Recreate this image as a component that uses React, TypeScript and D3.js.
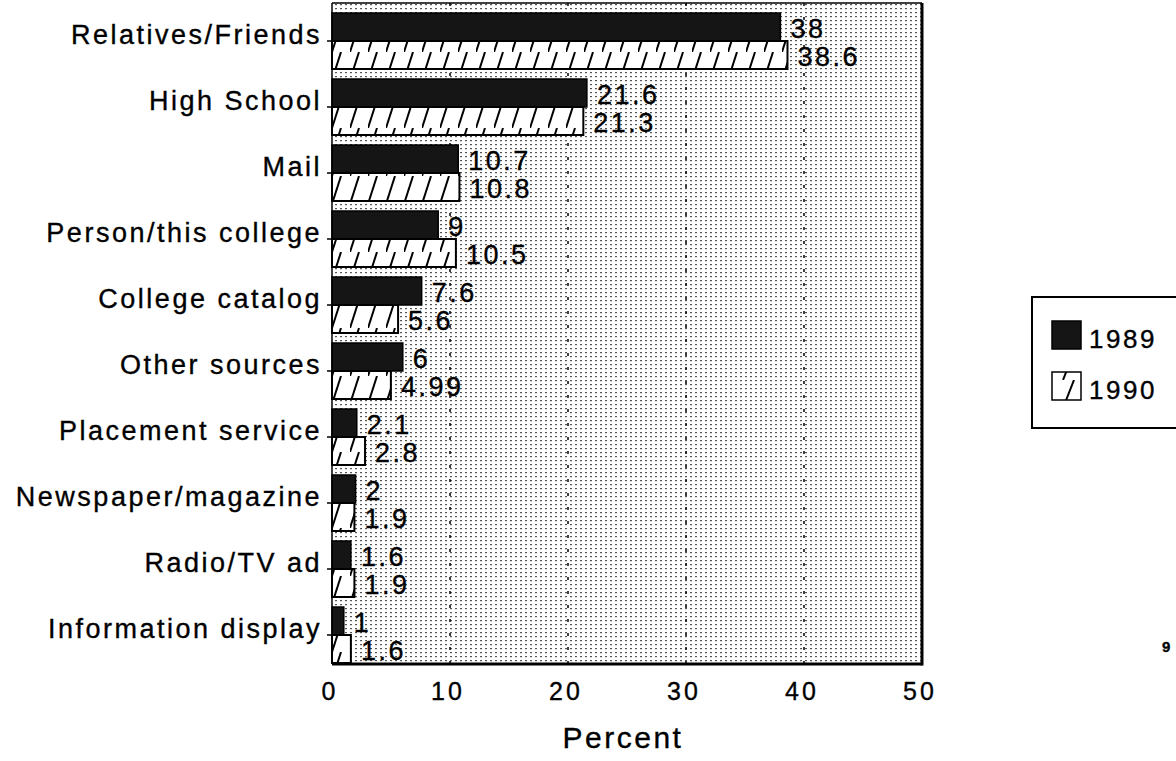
import { useEffect, useRef } from "react";
import * as d3 from "d3";

// source of information, 1989 vs 1990 (percent)
const categories = [
  "Relatives/Friends",
  "High School",
  "Mail",
  "Person/this college",
  "College catalog",
  "Other sources",
  "Placement service",
  "Newspaper/magazine",
  "Radio/TV ad",
  "Information display",
];
const values1989 = [38, 21.6, 10.7, 9, 7.6, 6, 2.1, 2, 1.6, 1];
const values1990 = [38.6, 21.3, 10.8, 10.5, 5.6, 4.99, 2.8, 1.9, 1.9, 1.6];
const seriesNames = ["1989", "1990"];
const xTicks = [0, 10, 20, 30, 40, 50];
const gridTicks = [10, 20, 30, 40];

const FONT = "'Liberation Sans', Arial, Helvetica, sans-serif";

function App() {
  const svgRef = useRef<SVGSVGElement>(null);

  useEffect(() => {
    if (!svgRef.current) return;
    const svg = d3.select(svgRef.current);
    svg.selectAll("*").remove();

    const left = 332;
    const right = 922;
    const top = 3;
    const bottom = 664;

    const x = d3.scaleLinear().domain([0, 50]).range([left, right]);
    const y = d3.scaleBand().domain(categories).range([11, 671]);
    const sub = d3.scaleBand().domain(seriesNames).range([2, 58]);

    const rows = categories.map((c, i) => ({
      cat: c,
      v: [values1989[i], values1990[i]],
    }));

    // scanned look: slightly heavier glyphs
    const ink = (sel: any) =>
      sel
        .attr("fill", "#000")
        .attr("stroke", "#000")
        .attr("stroke-width", 0.35)
        .style("font-family", FONT);

    const defs = svg.append("defs");

    // stipple background
    const dots = defs
      .append("pattern")
      .attr("id", "stipple")
      .attr("patternUnits", "userSpaceOnUse")
      .attr("width", 5)
      .attr("height", 4);
    dots.append("rect").attr("width", 5).attr("height", 4).attr("fill", "#fff");
    dots
      .append("rect")
      .attr("width", 2)
      .attr("height", 1.2)
      .attr("fill", "#555");

    // hatch pattern per bar, anchored to the bar's corner
    rows.forEach((d, i) => {
      const by = y(d.cat)! + sub("1990")!;
      const h = sub.bandwidth();
      const p = defs
        .append("pattern")
        .attr("id", `hatch-${i}`)
        .attr("patternUnits", "userSpaceOnUse")
        .attr("x", left)
        .attr("y", by)
        .attr("width", 18)
        .attr("height", h);
      p.append("rect").attr("width", 18).attr("height", h).attr("fill", "#fff");
      p.append("line")
        .attr("x1", 0)
        .attr("y1", h)
        .attr("x2", 9)
        .attr("y2", 0)
        .attr("stroke", "#000")
        .attr("stroke-width", 2);
    });

    // legend hatch
    const lp = defs
      .append("pattern")
      .attr("id", "hatch-legend")
      .attr("patternUnits", "userSpaceOnUse")
      .attr("x", 1052)
      .attr("y", 372)
      .attr("width", 29)
      .attr("height", 28);
    lp.append("rect").attr("width", 29).attr("height", 28).attr("fill", "#fff");
    lp.append("line")
      .attr("x1", 3)
      .attr("y1", 28)
      .attr("x2", 14)
      .attr("y2", 0)
      .attr("stroke", "#000")
      .attr("stroke-width", 2);

    // plot background
    svg
      .append("rect")
      .attr("x", left)
      .attr("y", top)
      .attr("width", right - left)
      .attr("height", bottom - top)
      .attr("fill", "url(#stipple)");

    // dotted grid lines
    svg
      .selectAll(".grid")
      .data(gridTicks)
      .enter()
      .append("line")
      .attr("class", "grid")
      .attr("x1", (d) => x(d))
      .attr("x2", (d) => x(d))
      .attr("y1", top)
      .attr("y2", bottom)
      .attr("stroke", "#000")
      .attr("stroke-width", 1.5)
      .attr("stroke-dasharray", "3,11");

    // bars
    const groups = svg
      .selectAll(".row")
      .data(rows)
      .enter()
      .append("g")
      .attr("class", "row")
      .attr("transform", (d) => `translate(0,${y(d.cat)})`);

    groups
      .append("rect")
      .attr("x", left)
      .attr("y", sub("1989")!)
      .attr("width", (d) => x(d.v[0]) - left)
      .attr("height", sub.bandwidth())
      .attr("fill", "#151515")
      .attr("stroke", "#000")
      .attr("stroke-width", 1.5);

    groups
      .append("rect")
      .attr("x", left)
      .attr("y", sub("1990")!)
      .attr("width", (d) => x(d.v[1]) - left)
      .attr("height", sub.bandwidth())
      .attr("fill", (d, i) => `url(#hatch-${i})`)
      .attr("stroke", "#000")
      .attr("stroke-width", 2);

    // value labels
    seriesNames.forEach((s, k) => {
      groups
        .append("text")
        .attr("x", (d) => x(d.v[k]) + 10)
        .attr("y", sub(s)! + sub.bandwidth() - 3)
        .style("font-size", "27px")
        .style("letter-spacing", "2.5px")
        .call(ink)
        .text((d) => String(d.v[k]));
    });

    // category labels and ticks
    groups
      .append("text")
      .attr("x", 322)
      .attr("y", sub("1990")! + 3)
      .attr("text-anchor", "end")
      .style("font-size", "27px")
      .style("letter-spacing", "2.5px")
      .call(ink)
      .text((d) => d.cat);

    groups
      .append("line")
      .attr("x1", left - 5)
      .attr("x2", left)
      .attr("y1", sub("1990")!)
      .attr("y2", sub("1990")!)
      .attr("stroke", "#000")
      .attr("stroke-width", 1.5);

    // frame
    svg
      .append("line")
      .attr("x1", left)
      .attr("x2", right)
      .attr("y1", top)
      .attr("y2", top)
      .attr("stroke", "#000")
      .attr("stroke-width", 1.5);
    svg
      .append("line")
      .attr("x1", left)
      .attr("x2", left)
      .attr("y1", top)
      .attr("y2", bottom)
      .attr("stroke", "#000")
      .attr("stroke-width", 1.5);
    svg
      .append("line")
      .attr("x1", right)
      .attr("x2", right)
      .attr("y1", top)
      .attr("y2", bottom + 1.5)
      .attr("stroke", "#000")
      .attr("stroke-width", 3);
    svg
      .append("line")
      .attr("x1", left)
      .attr("x2", right)
      .attr("y1", bottom)
      .attr("y2", bottom)
      .attr("stroke", "#000")
      .attr("stroke-width", 3);

    // x tick labels
    svg
      .selectAll(".xtick")
      .data(xTicks)
      .enter()
      .append("text")
      .attr("class", "xtick")
      .attr("x", (d) => x(d) - 2)
      .attr("y", 700)
      .attr("text-anchor", "middle")
      .style("font-size", "25px")
      .style("letter-spacing", "3px")
      .call(ink)
      .text((d) => d);

    svg
      .append("text")
      .attr("x", 623)
      .attr("y", 748)
      .attr("text-anchor", "middle")
      .style("font-size", "30px")
      .style("letter-spacing", "2.5px")
      .call(ink)
      .text("Percent");

    // legend
    svg
      .append("rect")
      .attr("x", 1032)
      .attr("y", 297)
      .attr("width", 170)
      .attr("height", 131)
      .attr("fill", "#fff")
      .attr("stroke", "#000")
      .attr("stroke-width", 2);

    const legendFill = ["#151515", "url(#hatch-legend)"];
    const legendY = d3.scaleOrdinal<string, number>().domain(seriesNames).range([321, 372]);

    const items = svg
      .selectAll(".legend-item")
      .data(seriesNames)
      .enter()
      .append("g")
      .attr("class", "legend-item")
      .attr("transform", (d) => `translate(1052,${legendY(d)})`);

    items
      .append("rect")
      .attr("width", 29)
      .attr("height", 28)
      .attr("fill", (d, i) => legendFill[i])
      .attr("stroke", "#000")
      .attr("stroke-width", 1.5);

    items
      .append("text")
      .attr("x", 37)
      .attr("y", 27)
      .style("font-size", "26px")
      .style("letter-spacing", "2.5px")
      .call(ink)
      .text((d) => d);

    // page number fragment
    svg
      .append("text")
      .attr("x", 1162)
      .attr("y", 652)
      .style("font-size", "15px")
      .style("font-weight", "bold")
      .call(ink)
      .text("9");
  }, []);

  return (
    <svg
      ref={svgRef}
      width={1176}
      height={761}
      style={{ position: "absolute", left: 0, top: 0, background: "#fff" }}
    />
  );
}

export default App;
